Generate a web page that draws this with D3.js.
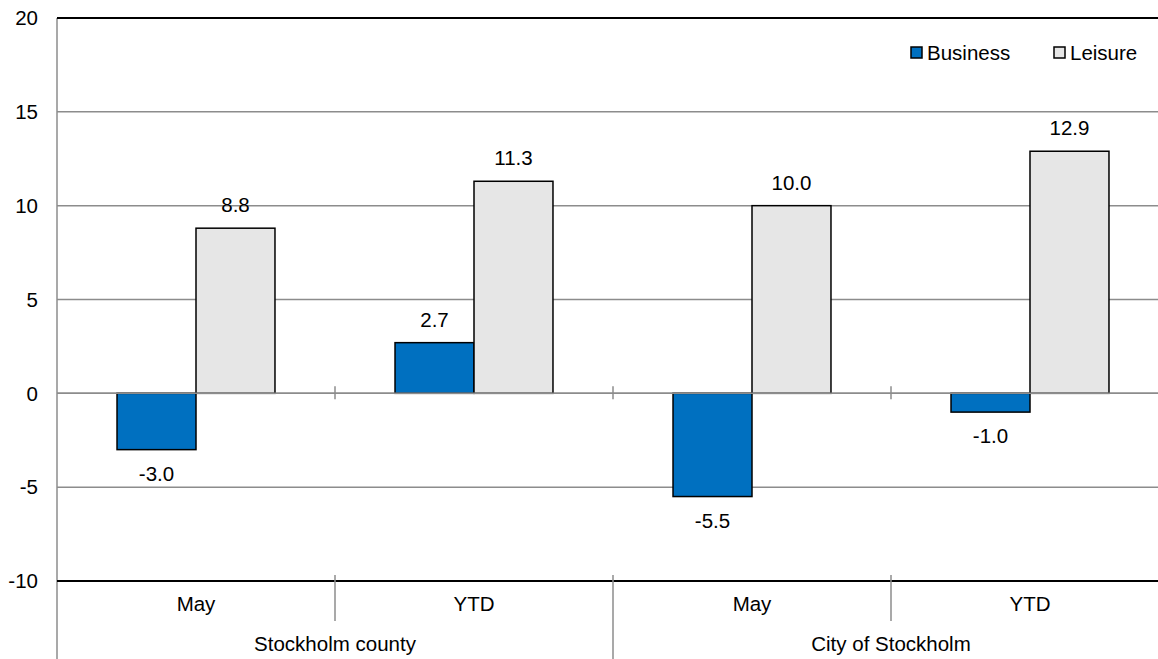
<!DOCTYPE html>
<html>
<head>
<meta charset="utf-8">
<script src="https://cdn.jsdelivr.net/npm/d3@7"></script>
<style>
  body { margin: 0; background: #fff; }
  svg { display: block; font-family: "Liberation Sans", Arial, sans-serif; }
</style>
</head>
<body>
<div id="chart"></div>
<script>
var periods = ["May", "YTD", "May", "YTD"];
var regions = ["Stockholm county", "City of Stockholm"];
var series = ["Business", "Leisure"];
var business = [-3.0, 2.7, -5.5, -1.0];
var leisure = [8.8, 11.3, 10.0, 12.9];
var yTicks = [-10, -5, 0, 5, 10, 15, 20];

var colors = {"Business": "#0070C0", "Leisure": "#E6E6E6"};

var W = 1158, H = 659;
var margin = {top: 18, left: 57};
var plotRight = 1169, plotBottom = 581;
var fs = "20.5px";

var svg = d3.select("#chart").append("svg")
  .attr("width", W)
  .attr("height", H);

var idx = d3.range(periods.length);

var x0 = d3.scaleBand()
  .domain(idx)
  .range([margin.left, plotRight])
  .padding(0);

var x1 = d3.scaleBand()
  .domain(series)
  .range([0, x0.bandwidth()])
  .paddingInner(0)
  .paddingOuter(0.76);

var y = d3.scaleLinear()
  .domain([-10, 20])
  .range([plotBottom, margin.top]);

// gridlines
svg.append("g")
  .selectAll("line")
  .data(yTicks.filter(function (d) { return d != 20 && d != -10; }))
  .join("line")
    .attr("x1", margin.left)
    .attr("x2", plotRight)
    .attr("y1", function (d) { return y(d); })
    .attr("y2", function (d) { return y(d); })
    .style("stroke", "#8c8c8c")
    .style("stroke-width", 1.5);

// y tick labels
svg.append("g")
  .selectAll("text")
  .data(yTicks)
  .join("text")
    .attr("x", 38)
    .attr("y", function (d) { return y(d); })
    .attr("dy", "0.35em")
    .attr("text-anchor", "end")
    .style("font-size", fs)
    .text(function (d) { return d; });

// bars
var rows = idx.map(function (i) {
  return {i: i, values: [{k: "Business", v: business[i]}, {k: "Leisure", v: leisure[i]}]};
});

var groups = svg.append("g")
  .selectAll("g")
  .data(rows)
  .join("g")
    .attr("transform", function (d) { return "translate(" + x0(d.i) + ",0)"; });

groups.selectAll("rect")
  .data(function (d) { return d.values; })
  .join("rect")
    .attr("x", function (d) { return x1(d.k); })
    .attr("y", function (d) { return y(Math.max(0, d.v)); })
    .attr("width", x1.bandwidth())
    .attr("height", function (d) { return Math.abs(y(d.v) - y(0)); })
    .attr("fill", function (d) { return colors[d.k]; })
    .style("stroke", "#000")
    .style("stroke-width", 1.5);

groups.selectAll("text")
  .data(function (d) { return d.values; })
  .join("text")
    .attr("x", function (d) { return x1(d.k) + x1.bandwidth() / 2; })
    .attr("y", function (d) { return d.v >= 0 ? y(d.v) - 16 : y(d.v) + 31; })
    .attr("text-anchor", "middle")
    .style("font-size", fs)
    .text(function (d) { return d.v.toFixed(1); });

// zero line with ticks
svg.append("line")
  .attr("x1", margin.left).attr("x2", plotRight)
  .attr("y1", y(0)).attr("y2", y(0))
  .style("stroke", "#8c8c8c")
  .style("stroke-width", 1.5);

svg.append("g")
  .selectAll("line")
  .data(idx.slice(1))
  .join("line")
    .attr("x1", function (d) { return x0(d); })
    .attr("x2", function (d) { return x0(d); })
    .attr("y1", y(0) - 7)
    .attr("y2", y(0) + 6)
    .style("stroke", "#8c8c8c")
    .style("stroke-width", 1.5);

// left axis
svg.append("line")
  .attr("x1", margin.left).attr("x2", margin.left)
  .attr("y1", y(20)).attr("y2", H)
  .style("stroke", "#8c8c8c")
  .style("stroke-width", 1.5);

// top + bottom borders
svg.append("line")
  .attr("x1", margin.left).attr("x2", plotRight)
  .attr("y1", y(20)).attr("y2", y(20))
  .style("stroke", "#000")
  .style("stroke-width", 2);

svg.append("line")
  .attr("x1", margin.left).attr("x2", plotRight)
  .attr("y1", y(-10)).attr("y2", y(-10))
  .style("stroke", "#000")
  .style("stroke-width", 2);

// category axis: periods
svg.append("g")
  .selectAll("text")
  .data(idx)
  .join("text")
    .attr("x", function (d) { return x0(d) + x0.bandwidth() / 2; })
    .attr("y", 611)
    .attr("text-anchor", "middle")
    .style("font-size", fs)
    .text(function (d) { return periods[d]; });

// dividers between periods inside a region
svg.append("g")
  .selectAll("line")
  .data([1, 3])
  .join("line")
    .attr("x1", function (d) { return x0(d); })
    .attr("x2", function (d) { return x0(d); })
    .attr("y1", plotBottom - 6)
    .attr("y2", 621)
    .style("stroke", "#8c8c8c")
    .style("stroke-width", 1.5);

// dividers between regions
svg.append("g")
  .selectAll("line")
  .data([2])
  .join("line")
    .attr("x1", function (d) { return x0(d); })
    .attr("x2", function (d) { return x0(d); })
    .attr("y1", plotBottom - 6)
    .attr("y2", H)
    .style("stroke", "#8c8c8c")
    .style("stroke-width", 1.5);

svg.append("g")
  .selectAll("text")
  .data(regions)
  .join("text")
    .attr("x", function (d, i) { return x0(i * 2) + x0.bandwidth(); })
    .attr("y", 651)
    .attr("text-anchor", "middle")
    .style("font-size", fs)
    .text(function (d) { return d; });

// legend
var legend = svg.append("g")
  .selectAll("g")
  .data(series)
  .join("g")
    .attr("transform", function (d, i) { return "translate(" + (911 + i * 143) + ",47)"; });

legend.append("rect")
  .attr("width", 11)
  .attr("height", 11)
  .attr("fill", function (d) { return colors[d]; })
  .style("stroke", "#000")
  .style("stroke-width", 1.5);

legend.append("text")
  .attr("x", 16)
  .attr("y", 5.5)
  .attr("dy", "0.35em")
  .style("font-size", fs)
  .text(function (d) { return d; });
</script>
</body>
</html>
